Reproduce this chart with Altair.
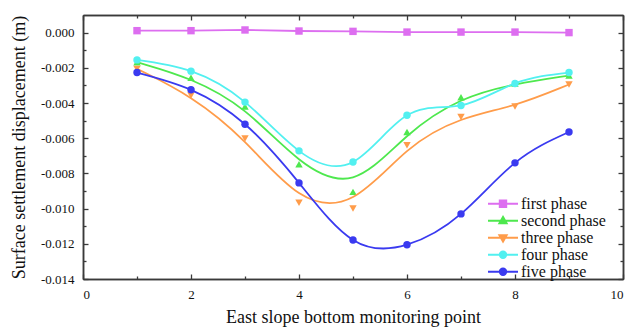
import altair as alt
import pandas as pd

# ---- data ----
xs = [1, 2, 3, 4, 5, 6, 7, 8, 9]
first_phase = [0.00011, 0.00011, 0.00015, 0.00009, 0.00007, 0.00003, 0.00003, 0.00003, 0.0]
second_phase = [-0.00168, -0.00257, -0.0042, -0.00748, -0.00905, -0.00565, -0.00367, -0.0029, -0.00244]
three_phase = [-0.00206, -0.00357, -0.00602, -0.00967, -0.00999, -0.0064, -0.0048, -0.0042, -0.00295]
four_phase = [-0.00155, -0.00219, -0.00395, -0.00672, -0.00735, -0.0047, -0.00414, -0.00289, -0.00227]
five_phase = [-0.00227, -0.00325, -0.00521, -0.00854, -0.01178, -0.01205, -0.0103, -0.0074, -0.00565]

names = ["first phase", "second phase", "three phase", "four phase", "five phase"]
colors = ["#dd6ef0", "#4ee84e", "#ff9c4a", "#52f0f0", "#3a3af0"]
shapes = ["square", "triangle-up", "triangle-down", "circle", "circle"]
interps = ["linear", "basis", "basis", "natural", "natural"]
legend_paths = [
    "M-1,0H1M-0.22,-0.22H0.22V0.22H-0.22Z",
    "M-1,0H1M0,-0.27L0.25,0.17H-0.25Z",
    "M-1,0H1M0,0.27L0.25,-0.17H-0.25Z",
    "M-1,0H1M0.22,0A0.22,0.22,0,1,1,-0.22,0A0.22,0.22,0,1,1,0.22,0Z",
    "M-1,0H1M0.22,0A0.22,0.22,0,1,1,-0.22,0A0.22,0.22,0,1,1,0.22,0Z",
]

y_major = [0.0, -0.002, -0.004, -0.006, -0.008, -0.010, -0.012, -0.014]
y_minor = [-0.001, -0.003, -0.005, -0.007, -0.009, -0.011, -0.013]
x_major = [0, 2, 4, 6, 8, 10]
x_minor = [1, 3, 5, 7, 9]

series_values = [first_phase, second_phase, three_phase, four_phase, five_phase]
rows = []
for name, vals in zip(names, series_values):
    for x, v in zip(xs, vals):
        rows.append({"series": name, "x": x, "v": v})
df = pd.DataFrame(rows)

FONT = "Liberation Serif"
AX = "#3a3a3a"
xscale = alt.Scale(domain=[0, 10], nice=False, zero=False)
yscale = alt.Scale(domain=[-0.014, 0.001], nice=False, zero=False)

def axis(orient, values, major, labels=False, title=None, fmt=None, label_expr=None, title_pad=None):
    kw = dict(
        orient=orient, values=values, grid=False,
        domainColor=AX, domainWidth=1.5,
        tickColor=AX, tickWidth=1.3,
        tickSize=alt.ExprRef(expr="-5" if major else "-3"),
        labels=labels,
        labelFont=FONT, labelFontSize=13, labelColor="#111",
        labelPadding=14,
        title=title,
    )
    if fmt:
        kw["format"] = fmt
    if label_expr:
        kw["labelExpr"] = label_expr
    if title:
        kw.update(titleFont=FONT, titleFontSize=18, titleFontWeight="normal", titleColor="#111")
        if title_pad is not None:
            kw["titlePadding"] = title_pad
    return alt.Axis(**kw)

yfmt = "replace(format(datum.value, '.3f'), '\u2212', '-')"

base = alt.Chart(df)

def axis_layer(xax, yax):
    return base.mark_point(opacity=0).encode(
        x=alt.X("x:Q", scale=xscale, axis=xax),
        y=alt.Y("v:Q", scale=yscale, axis=yax),
    )

ax_main = axis_layer(
    axis("bottom", x_major, True, labels=True, title="East slope bottom monitoring point", fmt="d", title_pad=7),
    axis("left", y_major, True, labels=True, title="Surface settlement displacement  (m)", label_expr=yfmt, title_pad=12),
)
ax_minor = axis_layer(axis("bottom", x_minor, False), axis("left", y_minor, False))
ax_top = axis_layer(axis("top", x_major, True), axis("right", y_major, True))
ax_top_minor = axis_layer(axis("top", x_minor, False), axis("right", y_minor, False))

layers = [ax_main, ax_minor, ax_top, ax_top_minor]

for name, col, shp, interp in zip(names, colors, shapes, interps):
    sub = base.transform_filter(alt.datum.series == name)
    line = sub.mark_line(color=col, strokeWidth=1.8, interpolate=interp).encode(
        x=alt.X("x:Q", scale=xscale, axis=None),
        y=alt.Y("v:Q", scale=yscale, axis=None),
    )
    pts = sub.mark_point(filled=True, color=col, shape=shp, size=55, opacity=1).encode(
        x=alt.X("x:Q", scale=xscale, axis=None),
        y=alt.Y("v:Q", scale=yscale, axis=None),
    )
    layers += [line, pts]

leg = alt.Legend(
    title=None, orient="none", legendX=404, legendY=181,
    labelFont=FONT, labelFontSize=16, labelColor="#111",
    symbolSize=900, symbolStrokeWidth=1.8, clipHeight=15.5,
    rowPadding=0, labelOffset=2, padding=0, symbolOpacity=1,
)
legend_layer = base.mark_point(filled=True, opacity=0).encode(
    x=alt.X("x:Q", scale=xscale, axis=None),
    y=alt.Y("v:Q", scale=yscale, axis=None),
    color=alt.Color("series:N", scale=alt.Scale(domain=names, range=colors), legend=leg),
    stroke=alt.Stroke("series:N", scale=alt.Scale(domain=names, range=colors), legend=leg),
    shape=alt.Shape("series:N", scale=alt.Scale(domain=names, range=legend_paths), legend=leg),
)
layers.append(legend_layer)

chart = alt.layer(*layers).resolve_axis(x="independent", y="independent").properties(
    width=540, height=264,
    padding={"left": 83, "top": 15, "right": 4, "bottom": 52},
    autosize="none",
).configure_view(stroke=None).configure(
    background="white", font=FONT
).configure_axis(
    labelFont=FONT, titleFont=FONT
).configure_legend(
    labelFont=FONT
)

chart.save("out.html", embed_options={"renderer": "svg", "actions": False})
